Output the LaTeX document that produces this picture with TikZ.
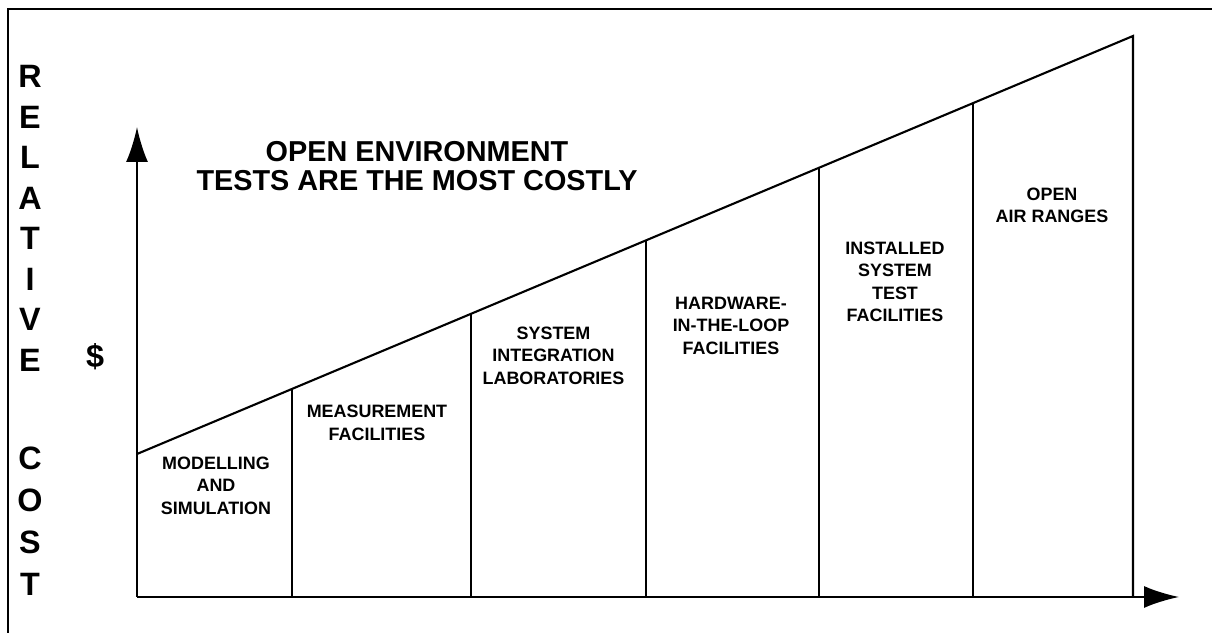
\documentclass[tikz,border=0pt]{standalone}
\usepackage{fontspec}
\setmainfont{Liberation Sans}
\usepackage{tikz}
\usetikzlibrary{arrows.meta}

\begin{document}
\begin{tikzpicture}
  \tikzset{AXIS/.style={line width=0.6pt, ->, >={Latex[length=3.5mm,width=2.2mm]}} }
  \tikzset{BAR/.style={line width=0.6pt} }
  \tikzset{LBL/.style={align=center, inner sep=0pt, font=\fontsize{5.1}{6.4}\selectfont\bfseries} }
  \tikzset{TTL/.style={align=center, inner sep=0pt, font=\fontsize{8.2}{8.25}\selectfont\bfseries} }
  \tikzset{VRT/.style={align=center, inner sep=0pt, font=\fontsize{9.2}{11.52}\selectfont\bfseries} }

  \useasboundingbox (0,0) rectangle (12.12,6.33);
  \draw[BAR] (0.08,0) -- (0.08,6.24) -- (12.12,6.24);

  \coordinate (orig) at (1.37,0.36);
  \coordinate (ytip) at (1.37,5.06);
  \coordinate (xtip) at (11.79,0.36);
  \coordinate (low)  at (1.37,1.79);
  \coordinate (high) at (11.33,5.97);

  \draw[AXIS] (orig) -- (ytip);
  \draw[AXIS] (orig) -- (xtip);
  \draw[BAR] (low) -- (high) -- (11.33,0.36);

  \draw[BAR] (2.92,0.36) -- (2.92,2.44);
  \draw[BAR] (4.71,0.36) -- (4.71,3.19);
  \draw[BAR] (6.46,0.36) -- (6.46,3.93);
  \draw[BAR] (8.19,0.36) -- (8.19,4.65);
  \draw[BAR] (9.73,0.36) -- (9.73,5.30);

  \node[VRT] (relative) at (0.30,4.145) {R\\E\\L\\A\\T\\I\\V\\E};
  \node[VRT, font=\fontsize{9.2}{11.95}\selectfont\bfseries] (cost) at (0.30,1.12) {C\\O\\S\\T};
  \node[VRT] (dollar) at (0.95,2.76) {\$};

  \node[TTL] (title) at (4.17,4.665) {OPEN ENVIRONMENT\\TESTS ARE THE MOST COSTLY};

  \node[LBL] (model)   at (2.16,1.475)  {MODELLING\\AND\\SIMULATION};
  \node[LBL] (measure) at (3.77,2.10)   {MEASUREMENT\\FACILITIES};
  \node[LBL] (sil)     at (5.535,2.775) {SYSTEM\\INTEGRATION\\LABORATORIES};
  \node[LBL] (hil)     at (7.31,3.0725) {HARDWARE-\\IN-THE-LOOP\\FACILITIES};
  \node[LBL] (istf)    at (8.95,3.51)   {INSTALLED\\SYSTEM\\TEST\\FACILITIES};
  \node[LBL] (oar)     at (10.52,4.275) {OPEN\\AIR RANGES};
\end{tikzpicture}
\end{document}
